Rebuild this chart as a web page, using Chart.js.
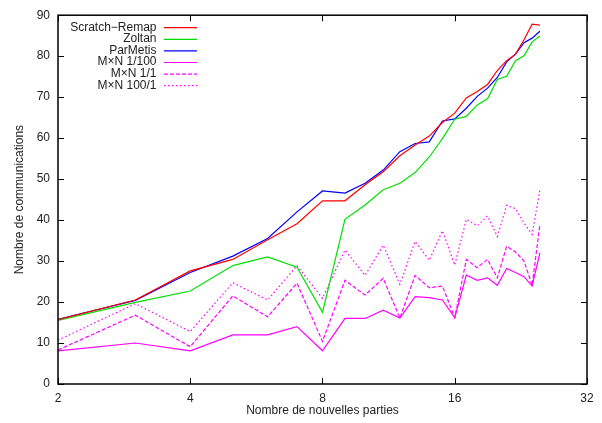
<!DOCTYPE html>
<html>
<head>
<meta charset="utf-8">
<script src="https://cdn.jsdelivr.net/npm/chart.js@4/dist/chart.umd.min.js"></script>
<style>
  html, body { margin: 0; padding: 0; background: #fff; }
  #wrap { width: 602px; height: 423px; }
</style>
</head>
<body>
<div id="wrap"><canvas id="lineChart" width="602" height="423"></canvas></div>
<script>
// Data
const xValues = [2, 3, 4, 5, 6, 7, 8, 9, 10, 11, 12, 13, 14, 15, 16, 17, 18, 19, 20, 21, 22, 23, 24, 25];
const scratchRemap = [15.7, 20.5, 27.6, 30.4, 35.2, 39.1, 44.7, 44.7, 48.6, 51.8, 55.7, 58.3, 60.5, 63.8, 66.1, 69.8, 71.4, 73.1, 76.5, 78.9, 80.5, 84.0, 87.8, 87.6];
const zoltan = [15.5, 19.9, 22.7, 28.9, 31.0, 28.5, 17.5, 40.2, 43.7, 47.4, 49.0, 51.6, 55.4, 59.9, 64.6, 65.3, 68.1, 69.6, 74.3, 75.1, 78.9, 80.1, 83.5, 84.9];
const parMetis = [15.8, 20.4, 27.2, 31.2, 35.5, 42.0, 47.1, 46.6, 49.0, 52.2, 56.7, 58.7, 59.1, 64.2, 64.7, 67.3, 70.2, 72.2, 74.8, 78.6, 80.5, 83.3, 84.4, 86.1];
const mxn1_100 = [8.1, 10.0, 8.1, 12.0, 12.0, 14.0, 8.1, 16.0, 16.0, 18.0, 16.1, 21.3, 21.1, 20.5, 16.2, 26.6, 25.3, 25.9, 24.1, 28.2, 27.2, 26.2, 23.9, 32.0];
const mxn1_1 = [8.3, 16.8, 9.1, 21.5, 16.4, 24.6, 10.4, 25.3, 21.7, 25.8, 16.1, 26.5, 23.5, 23.9, 16.2, 30.4, 28.4, 30.4, 25.9, 33.6, 32.2, 30.0, 24.1, 38.9];
const mxn100_1 = [10.7, 19.6, 12.8, 24.7, 20.5, 28.9, 20.9, 32.7, 26.5, 33.9, 24.3, 34.8, 30.2, 37.4, 29.0, 40.2, 38.6, 41.0, 36.0, 43.6, 42.8, 39.3, 36.5, 47.4];

const xTicks = [2, 4, 8, 16, 32];
const yTicks = [0, 10, 20, 30, 40, 50, 60, 70, 80, 90];

const FONT = "'Liberation Sans', Arial, sans-serif";

function toPoints(values) {
  return xValues.map((x, i) => ({ x: x, y: values[i] }));
}

function makeSeries(label, values, color, dash) {
  return {
    label: label,
    data: toPoints(values),
    borderColor: color,
    backgroundColor: color,
    borderWidth: 1.2,
    borderDash: dash,
    pointRadius: 0,
    tension: 0,
    fill: false
  };
}

// gnuplot style frame: box + inward ticks on all four sides, legend inside top-left
const framePlugin = {
  id: 'frame',
  afterDatasetsDraw(chart) {
    const ctx = chart.ctx;
    const a = chart.chartArea;
    const xs = chart.scales.x;
    const ys = chart.scales.y;
    const len = 6;
    ctx.save();
    ctx.strokeStyle = '#000';
    ctx.lineWidth = 1;
    ctx.beginPath();
    xTicks.forEach(v => {
      const px = Math.round(xs.getPixelForValue(v)) + 0.5;
      ctx.moveTo(px, a.bottom); ctx.lineTo(px, a.bottom - len);
      ctx.moveTo(px, a.top); ctx.lineTo(px, a.top + len);
    });
    yTicks.forEach(v => {
      const py = Math.round(ys.getPixelForValue(v)) + 0.5;
      ctx.moveTo(a.left, py); ctx.lineTo(a.left + len, py);
      ctx.moveTo(a.right, py); ctx.lineTo(a.right - len, py);
    });
    ctx.stroke();
    ctx.lineWidth = 1.5;
    ctx.strokeRect(a.left, a.top, a.right - a.left, a.bottom - a.top);

    // legend
    ctx.font = '12px ' + FONT;
    ctx.textAlign = 'right';
    ctx.textBaseline = 'middle';
    chart.data.datasets.forEach((ds, i) => {
      const y = a.top + 12 + i * 11.6;
      ctx.fillStyle = '#222';
      ctx.fillText(ds.label, a.left + 98.5, y);
      ctx.strokeStyle = ds.borderColor;
      ctx.lineWidth = 1.2;
      ctx.setLineDash(ds.borderDash || []);
      ctx.beginPath();
      ctx.moveTo(a.left + 106, y + 0.5);
      ctx.lineTo(a.left + 139, y + 0.5);
      ctx.stroke();
      ctx.setLineDash([]);
    });
    ctx.restore();
  }
};

const ctx = document.getElementById('lineChart').getContext('2d');
new Chart(ctx, {
  type: 'line',
  data: {
    datasets: [
      makeSeries('Scratch\u2212Remap', scratchRemap, '#ff0000', []),
      makeSeries('Zoltan', zoltan, '#00e000', []),
      makeSeries('ParMetis', parMetis, '#0000ff', []),
      makeSeries('M\u00d7N 1/100', mxn1_100, '#ff00ff', []),
      makeSeries('M\u00d7N 1/1', mxn1_1, '#ff00ff', [4, 2]),
      makeSeries('M\u00d7N 100/1', mxn100_1, '#ff00ff', [1.5, 2.5])
    ]
  },
  options: {
    responsive: false,
    animation: false,
    layout: { padding: { left: 0, right: 15, top: 12, bottom: 0 } },
    plugins: {
      legend: { display: false },
      tooltip: { enabled: false }
    },
    scales: {
      x: {
        type: 'logarithmic',
        min: 2,
        max: 32,
        afterBuildTicks(scale) {
          scale.ticks = xTicks.map(v => ({ value: v }));
        },
        afterFit(scale) { scale.height = 39; },
        grid: { display: false, drawTicks: false },
        border: { display: false },
        ticks: {
          color: '#222',
          padding: 7,
          maxRotation: 0,
          autoSkip: false,
          font: { family: FONT, size: 12 },
          callback: v => String(v)
        },
        title: {
          display: true,
          text: 'Nombre de nouvelles parties',
          color: '#222',
          padding: { top: 0, bottom: 5 },
          font: { family: FONT, size: 12 }
        }
      },
      y: {
        min: 0,
        max: 90,
        afterBuildTicks(scale) {
          scale.ticks = yTicks.map(v => ({ value: v }));
        },
        afterFit(scale) { scale.width = 58; },
        grid: { display: false, drawTicks: false },
        border: { display: false },
        ticks: {
          color: '#222',
          padding: 8,
          font: { family: FONT, size: 12 }
        },
        title: {
          display: true,
          text: 'Nombre de communications',
          color: '#222',
          padding: { top: 12, bottom: 0 },
          font: { family: FONT, size: 12 }
        }
      }
    }
  },
  plugins: [framePlugin]
});
</script>
</body>
</html>
